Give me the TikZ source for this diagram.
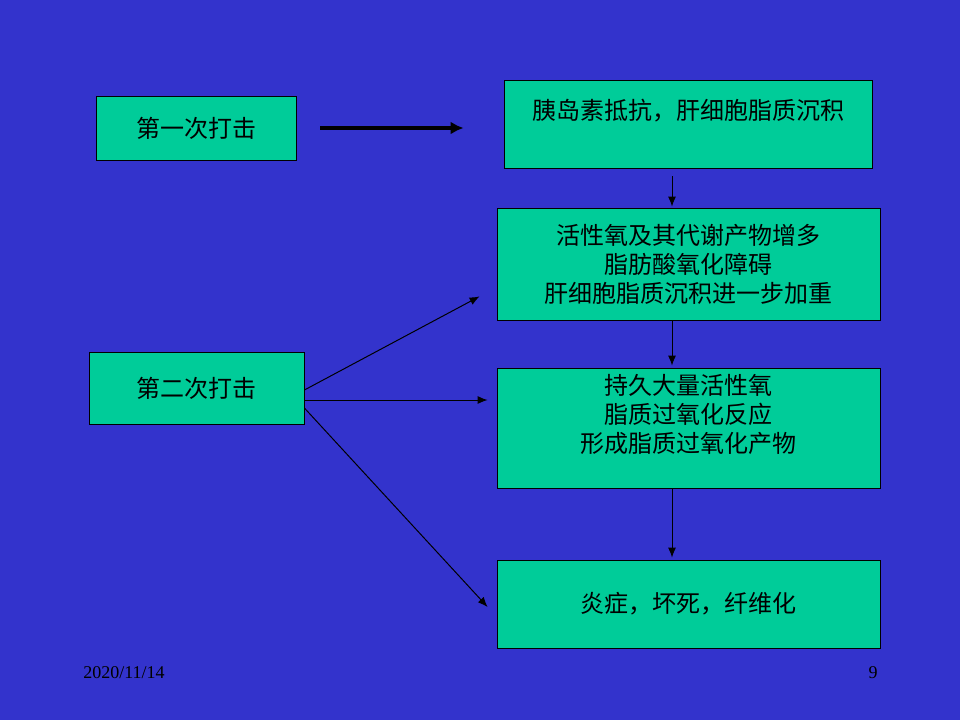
\documentclass[tikz,border=0pt]{standalone}
\usepackage{fontspec}
\setmainfont{Liberation Serif}
\newfontfamily\cjk{Noto Sans CJK SC}
\usepackage{xcolor}
\usepackage{tikz}
\usetikzlibrary{arrows.meta}

\definecolor{slideblue}{RGB}{51,51,204}
\definecolor{boxgreen}{RGB}{0,204,153}

\begin{document}
\begin{tikzpicture}[x=1pt, y=-1pt, >={Latex[length=10pt, width=8pt]},
    box/.style={rectangle, draw, fill=boxgreen, line width=0.8pt, align=center, inner sep=0pt, font=\cjk\fontsize{24}{29}\selectfont},
    foot/.style={anchor=base, font=\fontsize{18}{20}\selectfont}]
    \fill[slideblue] (0,0) rectangle (960,720);

    \node[box, minimum width=200, minimum height=64] (hit1) at (196,128) {第一次打击};
    \node[box, minimum width=215, minimum height=72] (hit2) at (196.5,388) {第二次打击};
    \node[box, minimum width=368, minimum height=88] (box1) at (688,124) {胰岛素抵抗，肝细胞脂质沉积\\ \mbox{}};
    \node[box, minimum width=383, minimum height=112] (box2) at (688.5,264) {活性氧及其代谢产物增多\\脂肪酸氧化障碍\\肝细胞脂质沉积进一步加重};
    \node[box, minimum width=383, minimum height=120] (box3) at (688.5,428) {持久大量活性氧\\脂质过氧化反应\\形成脂质过氧化产物\\ \mbox{}};
    \node[box, minimum width=383, minimum height=88] (box4) at (688.5,604) {炎症，坏死，纤维化};

    \node[foot] (date) at (124,678) {2020/11/14};
    \node[foot] (page) at (873,678) {9};

    \draw[-{Latex[length=13pt, width=13pt]}, line width=3.5pt, shorten <=24pt, shorten >=40pt] (hit1.east) -- (hit1.east -| box1.west);
    \draw[->, line width=1pt, shorten <=8pt, shorten >=1pt] ([xshift=-16]box1.south) -- ([xshift=-16.5]box2.north);
    \draw[->, line width=1pt, shorten >=2pt] ([xshift=-16.5]box2.south) -- ([xshift=-16.5]box3.north);
    \draw[->, line width=1pt, shorten >=2pt] ([xshift=-16.5]box3.south) -- ([xshift=-16.5]box4.north);
    \draw[->, line width=1pt] ([yshift=-2]hit2.east) -- ([shift={(-17,-24)}]box2.south west);
    \draw[->, line width=1pt, shorten >=9pt] ([yshift=-12]hit2.east) -- ([yshift=-12]hit2.east -| box3.west);
    \draw[->, line width=1pt] ([yshift=-20]hit2.east) -- ([xshift=-9, yshift=-3]box4.west);
\end{tikzpicture}
\end{document}
